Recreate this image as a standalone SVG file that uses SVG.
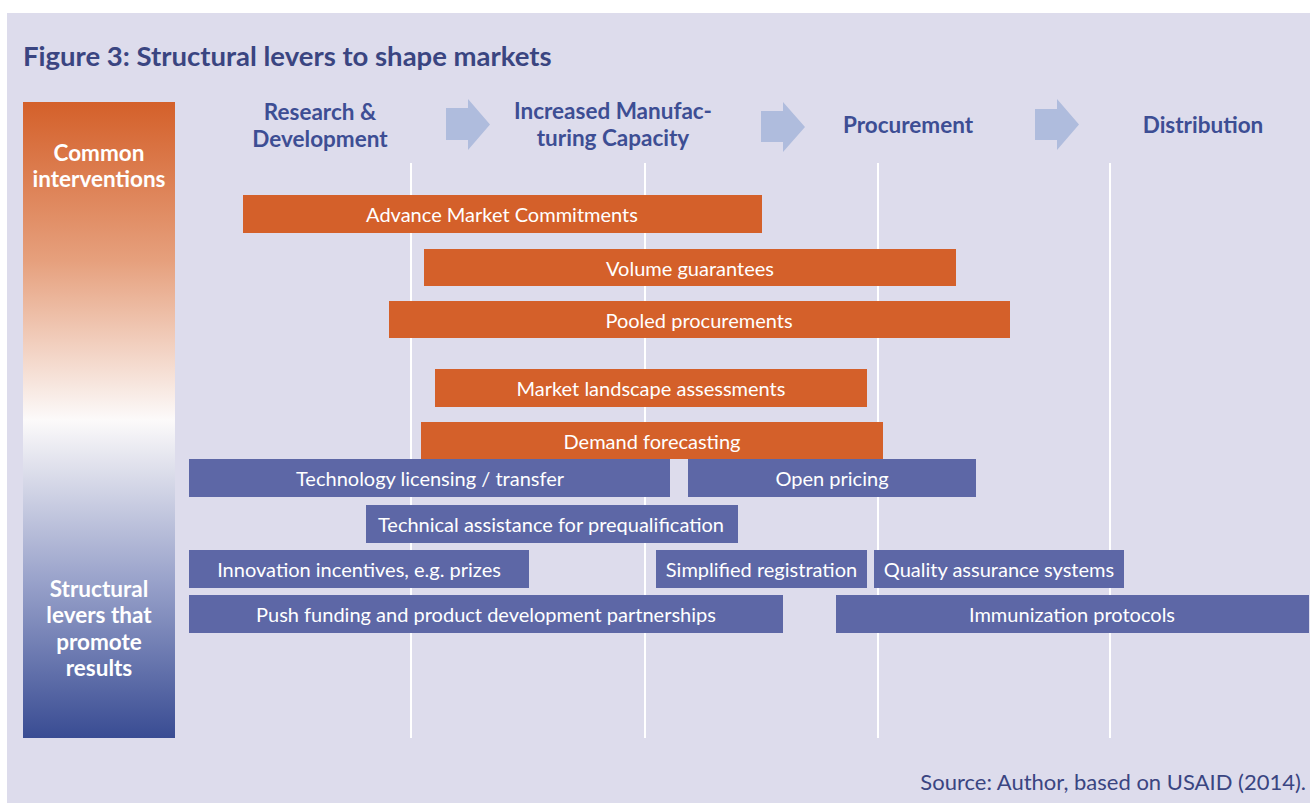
<svg xmlns="http://www.w3.org/2000/svg" width="1310" height="803" viewBox="0 0 1310 803">
  <defs>
    <linearGradient id="sideGrad" x1="0" y1="0" x2="0" y2="1">
      <stop offset="0" stop-color="#D4602A"/>
      <stop offset="0.25" stop-color="#E6A07D"/>
      <stop offset="0.5" stop-color="#FCFAFA"/>
      <stop offset="0.75" stop-color="#9AA3CB"/>
      <stop offset="1" stop-color="#394C93"/>
    </linearGradient>
    <style>
      .title { font-family: "Lato", "Liberation Sans", sans-serif; font-weight: 700; font-size: 27.5px; fill: #3A4581; }
      .stage { font-family: "Lato", "Liberation Sans", sans-serif; font-weight: 700; font-size: 22.5px; fill: #3D4E94; text-anchor: middle; }
      .side { font-family: "Lato", "Liberation Sans", sans-serif; font-weight: 700; font-size: 22.5px; fill: #FFFFFF; text-anchor: middle; }
      .lbl { font-family: "Lato", "Liberation Sans", sans-serif; font-size: 20px; fill: #FFFFFF; text-anchor: middle; dominant-baseline: central; }
      .orange { fill: #D4602A; }
      .blue { fill: #5D67A6; }
      .arrow { fill: #AFBCDD; }
      .grid { stroke: #FFFFFF; stroke-width: 2; }
      .src { font-family: "Lato", "Liberation Sans", sans-serif; font-size: 22px; fill: #3A4581; text-anchor: end; }
    </style>
  </defs>

  <!-- page and panel background -->
  <rect x="0" y="0" width="1310" height="803" fill="#FFFFFF"/>
  <rect x="7" y="13" width="1303" height="790" fill="#DDDCEC"/>

  <text class="title" x="23" y="66">Figure 3: Structural levers to shape markets</text>

  <!-- side legend bar -->
  <g id="side-legend">
    <rect x="23" y="102" width="152" height="636" fill="url(#sideGrad)"/>
    <text class="side" x="99" y="161">Common</text>
    <text class="side" x="99" y="187">interventions</text>
    <text class="side" x="99" y="597">Structural</text>
    <text class="side" x="99" y="623">levers that</text>
    <text class="side" x="99" y="650">promote</text>
    <text class="side" x="99" y="676">results</text>
  </g>

  <!-- stage headings and flow arrows -->
  <g id="stages">
    <text class="stage" x="320" y="120">Research &amp;</text>
    <text class="stage" x="320" y="147">Development</text>
    <text class="stage" x="613" y="119">Increased Manufac-</text>
    <text class="stage" x="613" y="146">turing Capacity</text>
    <text class="stage" x="908" y="133">Procurement</text>
    <text class="stage" x="1203" y="133">Distribution</text>
  </g>
  <g id="flow-arrows">
    <polygon class="arrow" points="446,108 468,108 468,99 490,124.5 468,150 468,140 446,140"/>
    <polygon class="arrow" points="761,111 783,111 783,102 805,127 783,152 783,142 761,142"/>
    <polygon class="arrow" points="1035,109 1057,109 1057,99 1079,124.5 1057,150 1057,140 1035,140"/>
  </g>

  <!-- stage dividers -->
  <g id="dividers">
    <line class="grid" x1="411" y1="163" x2="411" y2="738"/>
    <line class="grid" x1="645" y1="163" x2="645" y2="738"/>
    <line class="grid" x1="878" y1="163" x2="878" y2="738"/>
    <line class="grid" x1="1110" y1="163" x2="1110" y2="738"/>
  </g>

  <!-- common interventions -->
  <g id="amc"><rect class="orange" x="243" y="195" width="519" height="38"/><text class="lbl" x="502" y="214">Advance Market Commitments</text></g>
  <g id="volume"><rect class="orange" x="424" y="249" width="532" height="37"/><text class="lbl" x="690" y="267.5">Volume guarantees</text></g>
  <g id="pooled"><rect class="orange" x="389" y="301" width="621" height="37"/><text class="lbl" x="699" y="319.5">Pooled procurements</text></g>
  <g id="landscape"><rect class="orange" x="435" y="369" width="432" height="38"/><text class="lbl" x="651" y="388">Market landscape assessments</text></g>
  <g id="forecast"><rect class="orange" x="421" y="422" width="462" height="37"/><text class="lbl" x="652" y="440.5">Demand forecasting</text></g>

  <!-- structural levers -->
  <g id="techlic"><rect class="blue" x="189" y="459" width="481" height="38"/><text class="lbl" x="430" y="478">Technology licensing / transfer</text></g>
  <g id="openprice"><rect class="blue" x="688" y="459" width="288" height="38"/><text class="lbl" x="832" y="478">Open pricing</text></g>
  <g id="techassist"><rect class="blue" x="366" y="505" width="372" height="38"/><text class="lbl" x="551" y="524">Technical assistance for prequalification</text></g>
  <g id="innovation"><rect class="blue" x="189" y="550" width="340" height="38"/><text class="lbl" x="359" y="569">Innovation incentives, e.g. prizes</text></g>
  <g id="simplreg"><rect class="blue" x="656" y="550" width="211" height="38"/><text class="lbl" x="761.5" y="569">Simplified registration</text></g>
  <g id="qas"><rect class="blue" x="874" y="550" width="250" height="38"/><text class="lbl" x="999" y="569">Quality assurance systems</text></g>
  <g id="push"><rect class="blue" x="189" y="595" width="594" height="38"/><text class="lbl" x="486" y="614">Push funding and product development partnerships</text></g>
  <g id="immun"><rect class="blue" x="836" y="595" width="473" height="38"/><text class="lbl" x="1072" y="614">Immunization protocols</text></g>

  <text class="src" x="1306" y="790">Source: Author, based on USAID (2014).</text>
</svg>
